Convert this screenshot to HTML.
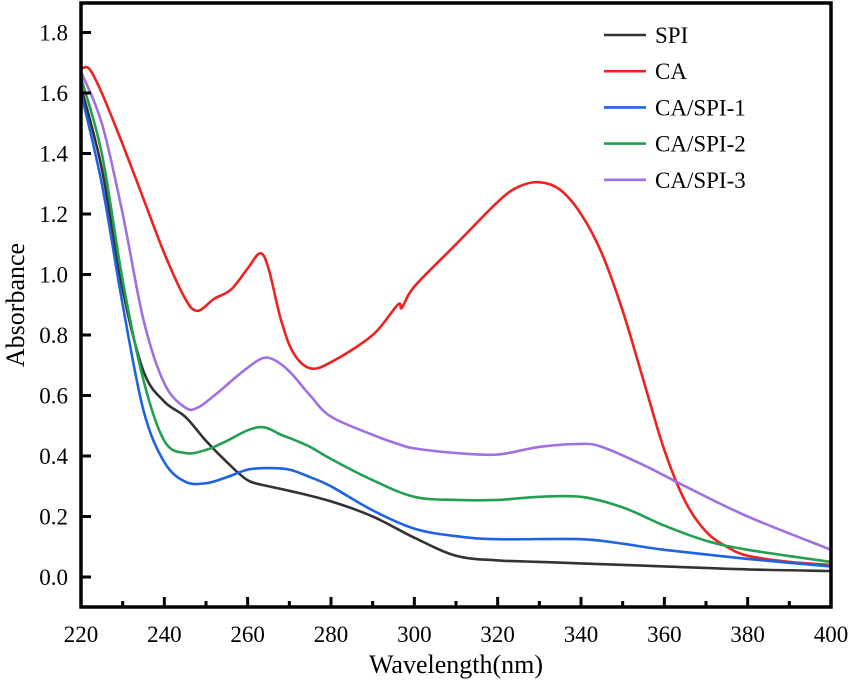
<!DOCTYPE html>
<html><head><meta charset="utf-8"><style>
body{margin:0;background:#fff;}
svg{display:block;}
text{font-family:"Liberation Serif","DejaVu Serif",serif;}
</style></head><body>
<svg id="chart" width="851" height="688"></svg>
<script>
const xTicks=[220,240,260,280,300,320,340,360,380,400];
const yTicks=[0.0,0.2,0.4,0.6,0.8,1.0,1.2,1.4,1.6,1.8];
const seriesNames=["SPI","CA","CA/SPI-1","CA/SPI-2","CA/SPI-3"];
const seriesColors=["#333333","#ee2222","#1f63e0","#22a050","#a070e0"];
const spiX=[220,225,230,235,240,245,250,255,260,265,270,280,290,300,310,320,330,340,360,380,400];
const spiY=[1.62,1.35,0.95,0.68,0.58,0.53,0.45,0.38,0.32,0.30,0.285,0.25,0.2,0.13,0.07,0.055,0.05,0.045,0.035,0.025,0.02];
const caX=[220,222,225,230,235,240,245,248,252,256,260,263,265,268,271,275,280,290,296,297,300,310,320,325,330,335,340,345,350,355,360,365,370,375,380,390,400];
const caY=[1.68,1.68,1.6,1.43,1.25,1.07,0.92,0.88,0.92,0.95,1.02,1.07,1.02,0.85,0.74,0.69,0.71,0.8,0.9,0.89,0.96,1.1,1.24,1.29,1.305,1.28,1.2,1.07,0.88,0.65,0.42,0.25,0.15,0.1,0.07,0.05,0.04];
const s1X=[220,225,230,235,240,245,250,255,260,265,270,275,280,290,300,310,320,340,350,360,380,400];
const s1Y=[1.6,1.3,0.9,0.55,0.38,0.315,0.31,0.33,0.355,0.36,0.355,0.33,0.3,0.22,0.16,0.135,0.125,0.125,0.11,0.09,0.06,0.035];
const s2X=[220,225,230,235,240,245,250,255,260,264,268,270,275,280,290,300,310,320,330,340,350,360,370,380,400];
const s2Y=[1.65,1.4,0.98,0.65,0.45,0.41,0.42,0.45,0.485,0.495,0.47,0.46,0.43,0.39,0.32,0.265,0.255,0.255,0.265,0.265,0.23,0.17,0.12,0.09,0.05];
const s3X=[220,225,230,235,240,245,248,252,258,263,266,270,275,280,290,296,300,310,320,330,340,345,355,365,380,400];
const s3Y=[1.67,1.5,1.2,0.85,0.64,0.56,0.56,0.6,0.67,0.72,0.72,0.68,0.6,0.53,0.47,0.44,0.425,0.41,0.405,0.43,0.44,0.43,0.37,0.3,0.2,0.09];
const allX=[spiX,caX,s1X,s2X,s3X], allY=[spiY,caY,s1Y,s2Y,s3Y];

const L=81,R=831,T=3,B=607;
const sx=v=>L+(v-220)/(400-220)*(R-L);
const sy=v=>577-v*302.5;
const svg=document.getElementById('chart');
const NS='http://www.w3.org/2000/svg';
const FF='"Liberation Serif","DejaVu Serif",serif';
function mk(tag,at,parent){const e=document.createElementNS(NS,tag);for(const k in at)e.setAttribute(k,at[k]);if(tag==='text')e.setAttribute('font-family',FF);(parent||svg).appendChild(e);return e;}
function smooth(pts){
  let d='M'+pts[0][0].toFixed(1)+','+pts[0][1].toFixed(1);
  for(let i=0;i<pts.length-1;i++){
    const p0=pts[Math.max(0,i-1)],p1=pts[i],p2=pts[i+1],p3=pts[Math.min(pts.length-1,i+2)];
    const c1=[p1[0]+(p2[0]-p0[0])/6,p1[1]+(p2[1]-p0[1])/6];
    const c2=[p2[0]-(p3[0]-p1[0])/6,p2[1]-(p3[1]-p1[1])/6];
    d+='C'+c1.map(v=>v.toFixed(1)).join(',')+' '+c2.map(v=>v.toFixed(1)).join(',')+' '+p2.map(v=>v.toFixed(1)).join(',');
  }
  return d;
}
allX.forEach((xs,i)=>{
  const pts=xs.map((x,j)=>[sx(x),sy(allY[i][j])]);
  const p=mk('path',{d:smooth(pts),fill:'none',stroke:seriesColors[i],'stroke-width':2.6,'stroke-linejoin':'round'});
  
  
});
const fr=mk('rect',{x:L,y:T,width:R-L,height:B-T,fill:'none',stroke:'#000','stroke-width':3.5});


xTicks.forEach(v=>{
  const x=sx(v);
  const t=mk('line',{x1:x,x2:x,y1:B,y2:B-10,stroke:'#000','stroke-width':3});
  
  
  const lb=mk('text',{x:x,y:642,'text-anchor':'middle','font-size':23});
  lb.textContent=v;
  
  
  if(v<400){const m=sx(v+10);
    const mt=mk('line',{x1:m,x2:m,y1:B,y2:B-6,stroke:'#000','stroke-width':3});
    
    }
});
yTicks.forEach(v=>{
  const y=sy(v);
  const t=mk('line',{x1:L,x2:L+10,y1:y,y2:y,stroke:'#000','stroke-width':3});
  
  
  const lb=mk('text',{x:68,y:y+8,'text-anchor':'end','font-size':23});
  lb.textContent=v.toFixed(1);
  
  
});
const xt=mk('text',{x:456,y:673,'text-anchor':'middle','font-size':26});
xt.textContent='Wavelength(nm)';


const yt=mk('text',{x:0,y:0,'text-anchor':'middle','font-size':26,transform:'translate(24,305) rotate(-90)'});
yt.textContent='Absorbance';


seriesNames.forEach((n,i)=>{
  const y=35+i*36.2;
  const g=mk('g',{});
  
  
  mk('line',{x1:604,x2:646,y1:y,y2:y,stroke:seriesColors[i],'stroke-width':2.6},g);
  const t=mk('text',{x:655,y:y+8,'font-size':23},g);
  t.textContent=n;
});
</script>
</body></html>
